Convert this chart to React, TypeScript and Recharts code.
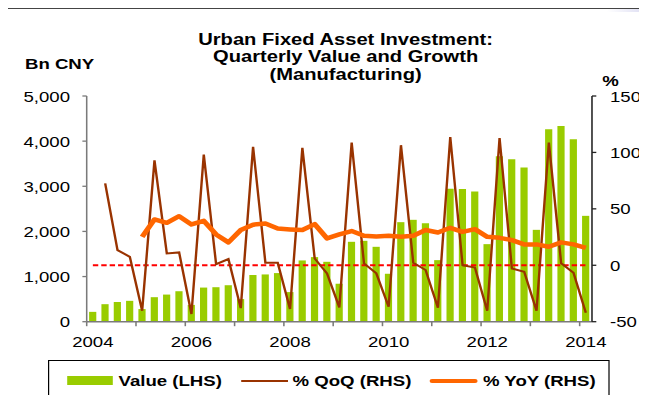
import React from "react"
import { ComposedChart, Bar, Line, XAxis, YAxis, ReferenceLine } from "recharts"

// quarterly categories, 2004Q1 .. 2014Q1
const quarters = [
  "2004Q1", "2004Q2", "2004Q3", "2004Q4",
  "2005Q1", "2005Q2", "2005Q3", "2005Q4",
  "2006Q1", "2006Q2", "2006Q3", "2006Q4",
  "2007Q1", "2007Q2", "2007Q3", "2007Q4",
  "2008Q1", "2008Q2", "2008Q3", "2008Q4",
  "2009Q1", "2009Q2", "2009Q3", "2009Q4",
  "2010Q1", "2010Q2", "2010Q3", "2010Q4",
  "2011Q1", "2011Q2", "2011Q3", "2011Q4",
  "2012Q1", "2012Q2", "2012Q3", "2012Q4",
  "2013Q1", "2013Q2", "2013Q3", "2013Q4",
  "2014Q1",
]

// Value (LHS), Bn CNY
const valueBn = [
  218, 388, 436, 462,
  280, 543, 601, 675,
  372, 756, 764, 808,
  501, 1035, 1047, 1077,
  656, 1357, 1431, 1327,
  841, 1770, 1792, 1659,
  1062, 2205, 2257, 2183,
  1364, 2945, 2942, 2883,
  1718, 3665, 3599, 3414,
  2035, 4263, 4336, 4041,
  2345,
]

// % QoQ (RHS)
const qoqPct = [
  null, 72.5, 13.5, 7.5,
  -40.3, 93, 10.5, 11.4,
  -43.2, 98, 1, 5.5,
  -38, 105, 2.2, 2.2,
  -38.8, 104, 6, -7.2,
  -37.3, 108.7, 1.7, -7.2,
  -36.7, 106.4, 2.2, -4.2,
  -37.6, 113.7, 0, -2,
  -40.3, 112.8, -2.8, -5.7,
  -40.3, 108.7, 1.7, -6.6,
  -42,
]

// % YoY (RHS)
const yoyPct = [
  null, null, null, null,
  25.2, 40.6, 37.6, 43.5,
  36.2, 39.4, 27.3, 20.3,
  31.2, 36, 37, 32.6,
  31.8, 31.2, 36.5, 23.8,
  27.3, 30.3, 26.1, 25.6,
  26.1, 25.2, 26.1, 31.2,
  29.1, 33.2, 29.6, 32,
  25.2, 24.3, 22.3, 18.5,
  18.5, 16.4, 20.3, 18.5,
  15.5,
]

const leftTicks = [0, 1000, 2000, 3000, 4000, 5000]
const rightTicks = [-50, 0, 50, 100, 150]
const yearTicks = [
  "2004Q1", "2005Q1", "2006Q1", "2007Q1", "2008Q1", "2009Q1",
  "2010Q1", "2011Q1", "2012Q1", "2013Q1", "2014Q1",
]
const titleLines = ["Urban Fixed Asset Investment:", "Quarterly Value and Growth", "(Manufacturing)"]

const data = quarters.map((q, i) => ({
  q,
  value: valueBn[i],
  qoq: qoqPct[i],
  yoy: yoyPct[i],
}))

// the original picture is stretched sideways, so everything is drawn narrow and scaled
const STRETCH = 1.2
const W = 647 / STRETCH
const H = 403
const PLOT_LEFT = 72.25
const PLOT_RIGHT = 493.33
const HALF_BAND = (PLOT_RIGHT - PLOT_LEFT) / quarters.length / 2

const FONT = "'Liberation Sans', Arial, sans-serif"
const AXIS_GREY = "#7a7a7a"

const YearTick = (props: any) => {
  const { x, y, payload } = props
  const year = String(payload.value).slice(0, 4)
  const showLabel = Number(year) % 2 === 0
  return (
    <g>
      <line x1={x - HALF_BAND} x2={x - HALF_BAND} y1={y} y2={y + 4.5} stroke={AXIS_GREY} strokeWidth={1.3} />
      {showLabel && (
        <text x={x} y={y + 25.6} textAnchor="middle" fontSize={15.5} fontFamily={FONT} fill="#000">
          {year}
        </text>
      )}
    </g>
  )
}

const legendText: React.CSSProperties = {
  position: "absolute",
  top: 372,
  fontSize: 15.5,
  fontWeight: "bold",
  lineHeight: "17px",
  whiteSpace: "nowrap",
}

export default function App() {
  return (
    <div style={{ position: "relative", width: 647, height: 403, margin: -8, overflow: "hidden", background: "#fff" }}>
      <div style={{ position: "absolute", left: 0, top: 0, width: 647, height: 2, background: "#8a8a8a" }} />
      <div
        style={{
          position: "absolute", right: 0, top: 0, width: 40, height: 12,
          background: "linear-gradient(90deg, #ffffff, #dcdcf2)",
        }}
      />
      <div
        style={{
          position: "absolute", left: 0, top: 0, width: W, height: H,
          transform: `scaleX(${STRETCH})`, transformOrigin: "0 0", fontFamily: FONT, color: "#000",
        }}
      >
        <div
          style={{
            position: "absolute", left: 2.6, top: 8.3, width: W, height: H,
            borderLeft: "1.4px solid #444", borderTop: "1.6px solid #444",
          }}
        />

        <ComposedChart
          width={W}
          height={H}
          data={data}
          margin={{ top: 96, right: 0, bottom: 51.3, left: 0 }}
          style={{ fontFamily: FONT }}
        >
          <XAxis
            dataKey="q"
            ticks={yearTicks}
            interval={0}
            height={30}
            tickSize={0}
            tickMargin={0}
            tickLine={false}
            axisLine={{ stroke: AXIS_GREY, strokeWidth: 1.6 }}
            tick={<YearTick />}
          />
          <YAxis
            yAxisId="left"
            width={PLOT_LEFT}
            domain={[0, 5000]}
            ticks={leftTicks}
            tickFormatter={(v: number) => v.toLocaleString("en-US")}
            tickSize={3.6}
            tickMargin={10.3}
            axisLine={{ stroke: AXIS_GREY, strokeWidth: 1.3 }}
            tickLine={{ stroke: AXIS_GREY, strokeWidth: 1.3 }}
            tick={{ fontSize: 15.5, fill: "#000", fontFamily: FONT }}
          />
          <YAxis
            yAxisId="right"
            orientation="right"
            width={W - PLOT_RIGHT}
            domain={[-50, 150]}
            ticks={rightTicks}
            tickSize={3.6}
            tickMargin={11.4}
            axisLine={{ stroke: "#222", strokeWidth: 1.3 }}
            tickLine={{ stroke: "#222", strokeWidth: 1.3 }}
            tick={{ fontSize: 15.5, fill: "#000", fontFamily: FONT }}
          />
          <Bar yAxisId="left" dataKey="value" fill="#99CC00" barSize={6} isAnimationActive={false} />
          <ReferenceLine
            yAxisId="right"
            segment={[
              { x: quarters[0], y: 0 },
              { x: quarters[quarters.length - 1], y: 0 },
            ]}
            stroke="#FF0000"
            strokeWidth={2}
            strokeDasharray="4.5 2.5"
            ifOverflow="visible"
          />
          <Line
            yAxisId="right"
            dataKey="qoq"
            type="linear"
            stroke="#993300"
            strokeWidth={2}
            dot={false}
            isAnimationActive={false}
          />
          <Line
            yAxisId="right"
            dataKey="yoy"
            type="linear"
            stroke="#FF6600"
            strokeWidth={4.5}
            strokeLinejoin="round"
            dot={false}
            isAnimationActive={false}
          />
        </ComposedChart>

        {/* title, one block per line so the lines don't overlap */}
        {titleLines.map((line, i) => (
          <div
            key={line}
            style={{
              position: "absolute", left: 288 - 150, top: 30.5 + i * 17.5, width: 300, height: 17.5,
              textAlign: "center", fontSize: 16.8, fontWeight: "bold", lineHeight: "17.5px",
            }}
          >
            {line}
          </div>
        ))}
        <div style={{ position: "absolute", left: 20.8, top: 56, fontSize: 15.5, fontWeight: "bold", lineHeight: "15.5px" }}>
          Bn CNY
        </div>
        <div
          style={{
            position: "absolute", left: 508.8 - 20, top: 72.5, width: 40, textAlign: "center",
            fontSize: 15.5, fontWeight: "bold", lineHeight: "15.5px",
          }}
        >
          %
        </div>

        {/* legend */}
        <div
          style={{
            position: "absolute", left: 40.3, top: 359.6, width: 468, height: 39.4,
            border: "1px solid #000", boxSizing: "border-box",
          }}
        />
        <div style={{ position: "absolute", left: 55.7, top: 376, width: 38.2, height: 9, background: "#99CC00" }} />
        <div style={{ ...legendText, left: 98.75 }}>Value (LHS)</div>
        <div style={{ position: "absolute", left: 201.4, top: 379.6, width: 38.6, height: 2, background: "#993300" }} />
        <div style={{ ...legendText, left: 243.8 }}>% QoQ (RHS)</div>
        <div style={{ position: "absolute", left: 358.3, top: 378.6, width: 40, height: 4, borderRadius: 2, background: "#FF6600" }} />
        <div style={{ ...legendText, left: 402.5 }}>% YoY (RHS)</div>
      </div>
    </div>
  )
}
